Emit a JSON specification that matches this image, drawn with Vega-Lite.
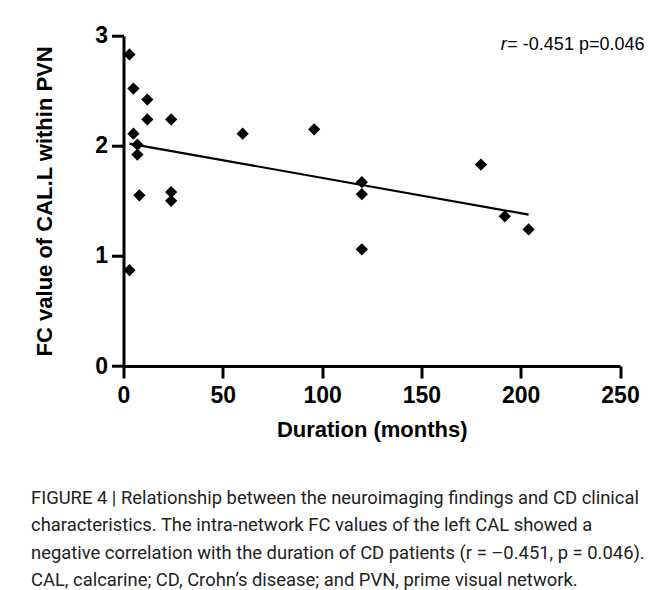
{
  "$schema": "https://vega.github.io/schema/vega-lite/v6.json",
  "autosize": {"type": "none"},
  "width": 496.5,
  "height": 330.3,
  "padding": {"left": 123.5, "top": 35.7, "right": 51, "bottom": 224},
  "background": "white",
  "config": {
    "view": {"stroke": null},
    "font": "Liberation Sans"
  },
  "title": {
    "text": [
      "FIGURE 4 | Relationship between the neuroimaging findings and CD clinical",
      "characteristics. The intra-network FC values of the left CAL showed a",
      "negative correlation with the duration of CD patients (r = –0.451, p = 0.046).",
      "CAL, calcarine; CD, Crohn’s disease; and PVN, prime visual network."
    ],
    "orient": "bottom",
    "anchor": "start",
    "frame": "group",
    "dx": -92.5,
    "offset": 49,
    "font": "Roboto, Liberation Sans",
    "fontSize": 18.4,
    "fontWeight": "normal",
    "lineHeight": 27.3,
    "color": "#222"
  },
  "datasets": {
    "points": [
      {"duration": 3, "fc": 2.83},
      {"duration": 5, "fc": 2.52},
      {"duration": 12, "fc": 2.42},
      {"duration": 12, "fc": 2.24},
      {"duration": 24, "fc": 2.24},
      {"duration": 60, "fc": 2.11},
      {"duration": 5, "fc": 2.11},
      {"duration": 7, "fc": 2.01},
      {"duration": 7, "fc": 1.92},
      {"duration": 8, "fc": 1.55},
      {"duration": 24, "fc": 1.58},
      {"duration": 24, "fc": 1.5},
      {"duration": 3, "fc": 0.87},
      {"duration": 96, "fc": 2.15},
      {"duration": 120, "fc": 1.67},
      {"duration": 120, "fc": 1.56},
      {"duration": 120, "fc": 1.06},
      {"duration": 180, "fc": 1.83},
      {"duration": 192, "fc": 1.36},
      {"duration": 204, "fc": 1.24}
    ],
    "fit": [
      {"duration": 3, "fc": 2.02},
      {"duration": 204, "fc": 1.375}
    ],
    "note": [
      {"duration": 190, "fc": 2.915, "r": "r", "rest": "= -0.451  p=0.046"}
    ]
  },
  "layer": [
    {
      "data": {"name": "points"},
      "mark": {"type": "point", "shape": "diamond", "filled": true, "color": "black", "opacity": 1, "size": 150},
      "encoding": {
        "x": {
          "field": "duration", "type": "quantitative",
          "scale": {"domain": [0, 250], "nice": false, "zero": false},
          "axis": {
            "title": "Duration (months)",
            "values": [0, 50, 100, 150, 200, 250],
            "format": "d",
            "grid": false,
            "domainColor": "black", "domainWidth": 3,
            "tickColor": "black", "tickWidth": 3, "tickSize": 12,
            "labelFont": "Liberation Sans", "labelFontSize": 23, "labelFontWeight": "bold", "labelColor": "black",
            "labelPadding": 6, "labelFlush": false,
            "titleFont": "Liberation Sans", "titleFontSize": 22, "titleFontWeight": "bold", "titleColor": "black",
            "titlePadding": 12
          }
        },
        "y": {
          "field": "fc", "type": "quantitative",
          "scale": {"domain": [0, 3], "nice": false, "zero": false},
          "axis": {
            "title": "FC value of CAL.L within PVN",
            "values": [0, 1, 2, 3],
            "format": "d",
            "grid": false,
            "domainColor": "black", "domainWidth": 3,
            "tickColor": "black", "tickWidth": 3, "tickSize": 12,
            "labelFont": "Liberation Sans", "labelFontSize": 23, "labelFontWeight": "bold", "labelColor": "black",
            "labelPadding": 4, "labelFlush": false,
            "titleFont": "Liberation Sans", "titleFontSize": 22, "titleFontWeight": "bold", "titleColor": "black",
            "titlePadding": 38
          }
        }
      }
    },
    {
      "data": {"name": "fit"},
      "mark": {"type": "line", "color": "black", "strokeWidth": 2.2},
      "encoding": {
        "x": {"field": "duration", "type": "quantitative"},
        "y": {"field": "fc", "type": "quantitative"}
      }
    },
    {
      "data": {"name": "note"},
      "mark": {"type": "text", "align": "left", "baseline": "middle", "fontSize": 18, "fontStyle": "italic", "font": "Liberation Sans", "color": "black"},
      "encoding": {
        "x": {"field": "duration", "type": "quantitative"},
        "y": {"field": "fc", "type": "quantitative"},
        "text": {"field": "r"}
      }
    },
    {
      "data": {"name": "note"},
      "mark": {"type": "text", "align": "left", "baseline": "middle", "fontSize": 18, "font": "Liberation Sans", "color": "black", "dx": 6.5},
      "encoding": {
        "x": {"field": "duration", "type": "quantitative"},
        "y": {"field": "fc", "type": "quantitative"},
        "text": {"field": "rest"}
      }
    }
  ]
}
